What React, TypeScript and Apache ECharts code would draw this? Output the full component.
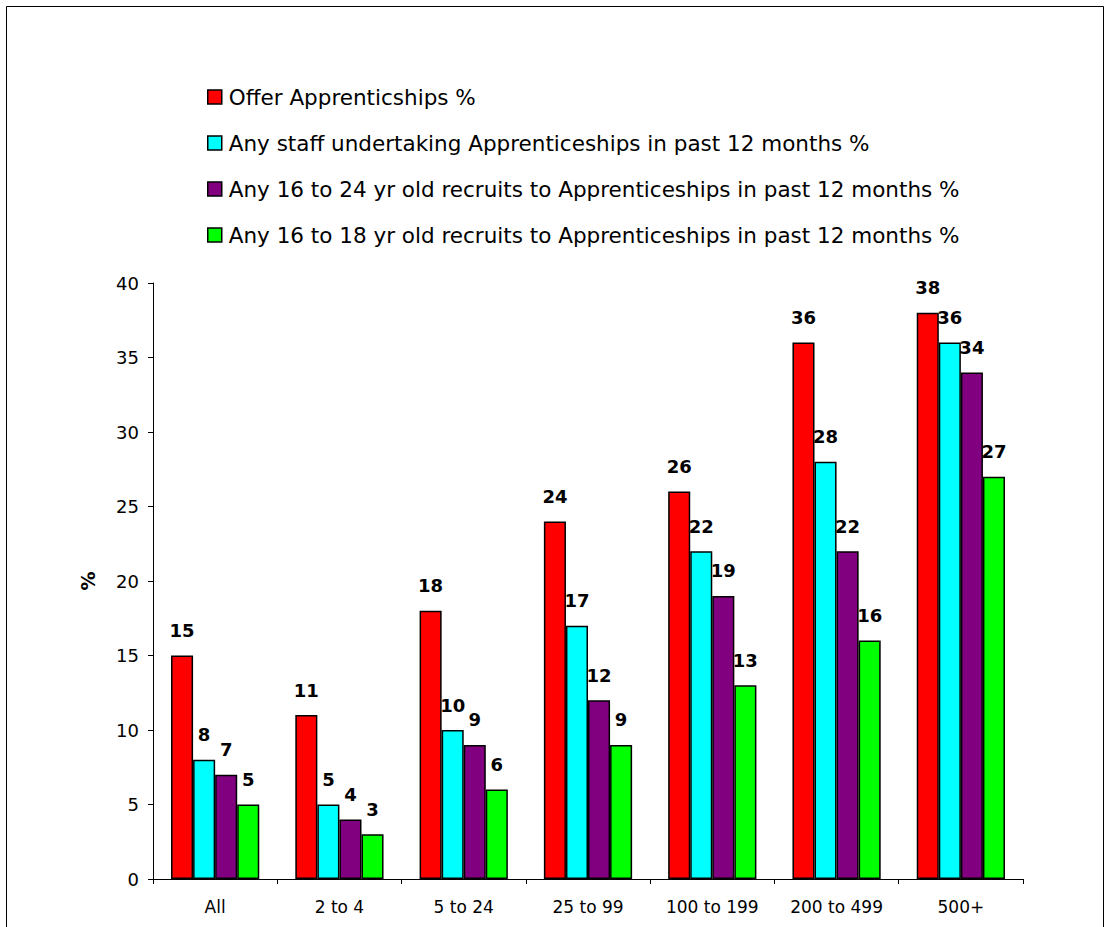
import React, { useEffect, useRef } from "react";
import * as echarts from "echarts";

const categories = ["All", "2 to 4", "5 to 24", "25 to 99", "100 to 199", "200 to 499", "500+"];
const seriesNames = [
  "Offer Apprenticships %",
  "Any staff undertaking Apprenticeships in past 12 months %",
  "Any 16 to 24 yr old recruits to Apprenticeships in past 12 months %",
  "Any 16 to 18 yr old recruits to Apprenticeships in past 12 months %",
];
const offer = [15, 11, 18, 24, 26, 36, 38];
const anyStaff = [8, 5, 10, 17, 22, 28, 36];
const recruits16to24 = [7, 4, 9, 12, 19, 22, 34];
const recruits16to18 = [5, 3, 6, 9, 13, 16, 27];
const colors = ["#FF0000", "#00FFFF", "#800080", "#00FF00"];

export default function App() {
  const ref = useRef<HTMLDivElement>(null);
  useEffect(() => {
    if (!ref.current) return;
    const chart = echarts.init(ref.current, undefined, { renderer: "svg" });
    const data = [offer, anyStaff, recruits16to24, recruits16to18];
    chart.setOption({
      animation: false,
      textStyle: { fontFamily: "DejaVu Sans, Arial, sans-serif" },
      graphic: [
        {
          type: "rect",
          shape: { x: 6.5, y: 6.5, width: 1097, height: 940 },
          style: { fill: "none", stroke: "#000", lineWidth: 1 },
          silent: true,
        },
      ],
      legend: {
        orient: "vertical",
        left: 202,
        top: 80,
        itemWidth: 14,
        itemHeight: 14,
        itemGap: 22,
        icon: "rect",
        itemStyle: { borderColor: "#000", borderWidth: 1.5 },
        textStyle: { fontSize: 21.5, color: "#000", lineHeight: 24, padding: [0, 0, 0, 2] },
        data: seriesNames,
      },
      grid: { left: 153, right: 86, top: 283, bottom: 48 },
      xAxis: {
        type: "category",
        data: categories,
        axisLine: { lineStyle: { color: "#000", width: 1 } },
        axisTick: { show: true, length: 5, lineStyle: { color: "#000" } },
        axisLabel: { color: "#000", fontSize: 17, margin: 19 },
      },
      yAxis: {
        type: "value",
        min: 0,
        max: 40,
        interval: 5,
        name: "%",
        nameLocation: "middle",
        nameGap: 56,
        nameRotate: 90,
        nameTextStyle: { fontSize: 19, fontWeight: "bold", color: "#000" },
        axisLine: { show: true, lineStyle: { color: "#000", width: 1 } },
        axisTick: { show: true, length: 5, lineStyle: { color: "#000" } },
        axisLabel: { color: "#000", fontSize: 18, margin: 14 },
        splitLine: { show: false },
      },
      series: seriesNames.map((name, i) => ({
        name,
        type: "bar",
        data: data[i],
        barGap: "0%",
        barCategoryGap: "29%",
        itemStyle: { color: colors[i], borderColor: "#000", borderWidth: 1.5 },
        label: {
          show: true,
          position: "top",
          distance: 16,
          fontSize: 18,
          fontWeight: "bold",
          color: "#000",
        },
      })),
    });
    return () => chart.dispose();
  }, []);
  return (
    <div
      ref={ref}
      style={{ position: "fixed", left: 0, top: 0, width: 1109, height: 927, background: "#fff" }}
    />
  );
}
